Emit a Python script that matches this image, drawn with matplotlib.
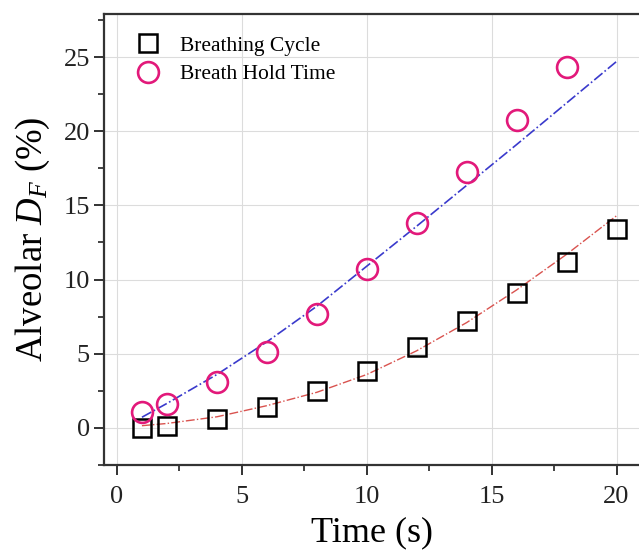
import numpy as np
import matplotlib.pyplot as plt

plt.rcParams['font.family'] = ['Liberation Serif', 'DejaVu Serif']
plt.rcParams['mathtext.fontset'] = 'custom'
plt.rcParams['mathtext.rm'] = 'Liberation Serif'
plt.rcParams['mathtext.it'] = 'Liberation Serif:italic'

# data
t_cycle = [1, 2, 4, 6, 8, 10, 12, 14, 16, 18, 20]
df_cycle = [0.0, 0.15, 0.6, 1.4, 2.47, 3.85, 5.43, 7.22, 9.08, 11.2, 13.43]

t_hold = [1, 2, 4, 6, 8, 10, 12, 14, 16, 18]
df_hold = [1.05, 1.6, 3.07, 5.13, 7.67, 10.69, 13.79, 17.24, 20.74, 24.3]

# fitted curves
t_fit = [1, 2, 4, 6, 8, 10, 12, 14, 16, 18, 20]
fit_cycle = [0.15, 0.3, 0.75, 1.5, 2.4, 3.6, 5.2, 7.1, 9.3, 11.7, 14.3]
fit_hold = [0.72, 1.65, 3.6, 5.8, 8.2, 10.9, 13.6, 16.35, 19.1, 21.9, 24.7]

fig = plt.figure(figsize=(6.39, 5.52), dpi=100)
ax = fig.add_axes([0.1635, 0.1576, 0.8365, 0.817])

ax.grid(True, color='#dcdcdc', linewidth=0.8, zorder=0)

ax.plot(t_fit, fit_cycle, color='#d9534f', linestyle='-.', linewidth=1.0, zorder=2)
ax.plot(t_fit, fit_hold, color='#3a3acc', linestyle='-.', linewidth=1.2, zorder=2)

ax.plot(t_cycle, df_cycle, linestyle='none', marker='s', markersize=13,
        markerfacecolor='none', markeredgecolor='black', markeredgewidth=1.8,
        label='Breathing Cycle', zorder=3)
ax.plot(t_hold, df_hold, linestyle='none', marker='o', markersize=15,
        markerfacecolor='none', markeredgecolor='#e2197a', markeredgewidth=1.9,
        label='Breath Hold Time', zorder=3)

ax.set_xlim(-0.5, 20.9)
ax.set_ylim(-2.4, 27.9)
ax.set_xticks([0, 5, 10, 15, 20])
ax.set_xticks([2.5, 7.5, 12.5, 17.5], minor=True)
ax.set_yticks([0, 5, 10, 15, 20, 25])
ax.set_yticks([-2.5, 2.5, 7.5, 12.5, 17.5, 22.5, 27.5], minor=True)

for s in ['left', 'top', 'bottom']:
    ax.spines[s].set_linewidth(1.6)
    ax.spines[s].set_color('#333333')
ax.spines['right'].set_visible(False)
ax.tick_params(which='major', direction='out', length=7, width=1.3, labelsize=19, colors='#222222')
ax.tick_params(which='minor', direction='out', length=4, width=1.2, colors='#222222')
ax.tick_params(axis='x', pad=8)

ax.set_xlabel('Time (s)', fontsize=26, labelpad=6)
ax.set_ylabel('Alveolar $D_F$ (%)', fontsize=26.5, labelpad=8)

ax.legend(loc='upper left', frameon=False, fontsize=15.5, handletextpad=0.5,
          borderaxespad=0.6, labelspacing=0.4, bbox_to_anchor=(0.0, 1.0))

plt.savefig('out.png', dpi=100)
